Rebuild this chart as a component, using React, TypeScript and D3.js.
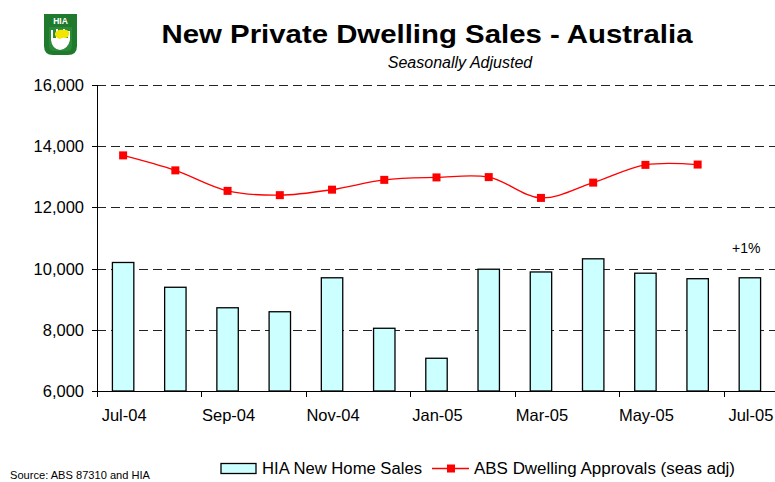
import React from "react";
import * as d3 from "d3";

const months = ["Jul-04", "Aug-04", "Sep-04", "Oct-04", "Nov-04", "Dec-04", "Jan-05", "Feb-05", "Mar-05", "Apr-05", "May-05", "Jun-05", "Jul-05"];
const hiaSales = [10200, 9390, 8720, 8590, 9700, 8050, 7070, 9980, 9890, 10320, 9850, 9670, 9700];
const absApprovals: (number | null)[] = [13700, 13210, 12540, 12400, 12580, 12900, 12980, 12990, 12310, 12810, 13390, 13400, null];
const yTicks = [6000, 8000, 10000, 12000, 14000, 16000];
const gridTicks = [8000, 10000, 12000, 14000, 16000];
const xLabelMonths = ["Jul-04", "Sep-04", "Nov-04", "Jan-05", "Mar-05", "May-05", "Jul-05"];

const FONT = "'Liberation Sans', Arial, sans-serif";

export default function App() {
  const W = 775, H = 482;
  const left = 97, right = 776, top = 85, bottom = 391;
  const x = d3.scaleBand<string>().domain(months).range([left, right]).paddingInner(0).paddingOuter(0);
  const y = d3.scaleLinear().domain([6000, 16000]).range([bottom, top]);
  const bw = x.bandwidth();
  const barW = bw * 0.41;
  const cx = (m: string) => (x(m) as number) + bw / 2;

  const linePts = months
    .map((m, i) => ({ m, v: absApprovals[i] }))
    .filter((d) => d.v !== null) as { m: string; v: number }[];
  const line = d3
    .line<{ m: string; v: number }>()
    .x((d) => cx(d.m))
    .y((d) => y(d.v))
    .curve(d3.curveCatmullRom.alpha(0.5));

  const fmt = d3.format(",");

  return (
    <svg width={W} height={H} style={{ position: "absolute", left: 0, top: 0, background: "#fff" }} fontFamily={FONT}>
      <rect x={0} y={0} width={W} height={H} fill="#fff" />
      {/* Logo */}
      <g>
        <path d="M44,14 H77 V46 Q77,55 68,55 H53 Q44,55 44,46 Z" fill="#1f7a2e" />
        <path d="M49,27 H72 V46 Q72,51 67,51 H54 Q49,51 49,46 Z" fill="#2a8a38" />
        <text x={60.5} y={24} fontSize={8.5} fontWeight="bold" fill="#fff" textAnchor="middle">HIA</text>
        <path d="M51,30 L51,40 Q52,49 60,50 Q68,49 70,40 L70,31 L68,31 L68,38 L65,38 L65,29 L63,29 L63,37 L58,37 L58,29 L56,29 L56,38 L53,38 L53,30 Z" fill="#ffffff" />
        <path d="M55,33 Q58,29 63,30 Q67,29 69,32 Q70,36 66,38 Q62,37 60,39 Q56,38 55,35 Z" fill="#f2e600" />
      </g>

      {/* Title */}
      <text x={427} y={43} fontSize={26} fontWeight="bold" textAnchor="middle" fill="#000" textLength={531} lengthAdjust="spacingAndGlyphs">
        New Private Dwelling Sales - Australia
      </text>
      <text x={460} y={68} fontSize={16} fontStyle="italic" textAnchor="middle" fill="#000">
        Seasonally Adjusted
      </text>

      {/* Gridlines */}
      {gridTicks.map((t) => (
        <line key={t} x1={left} x2={right} y1={Math.round(y(t)) + 0.5} y2={Math.round(y(t)) + 0.5} stroke="#222" strokeWidth={1} strokeDasharray="9,5" />
      ))}

      {/* Bars */}
      {months.map((m, i) => (
        <rect
          key={m}
          x={cx(m) - barW / 2}
          y={y(hiaSales[i])}
          width={barW}
          height={bottom - y(hiaSales[i])}
          fill="#ccffff"
          stroke="#000"
          strokeWidth={1.3}
        />
      ))}

      {/* Axes */}
      <line x1={left + 0.5} x2={left + 0.5} y1={top} y2={bottom} stroke="#000" strokeWidth={1} />
      <line x1={left} x2={right} y1={bottom + 0.5} y2={bottom + 0.5} stroke="#000" strokeWidth={1} />
      {yTicks.map((t) => (
        <g key={t}>
          <line x1={left - 5} x2={left} y1={Math.round(y(t)) + 0.5} y2={Math.round(y(t)) + 0.5} stroke="#000" />
          <text x={84} y={y(t) + 6} fontSize={16.5} textAnchor="end" fill="#000">{fmt(t)}</text>
        </g>
      ))}
      {months.map((m, i) =>
        i % 2 === 0 ? (
          <line key={m} x1={Math.round(x(m) as number) + 0.5} x2={Math.round(x(m) as number) + 0.5} y1={bottom} y2={bottom + 6} stroke="#000" />
        ) : null
      )}
      {xLabelMonths.map((m) => (
        <text key={m} x={cx(m) + 1} y={421} fontSize={16.5} textAnchor="middle" fill="#000">{m}</text>
      ))}

      {/* Line */}
      <path d={line(linePts) || ""} fill="none" stroke="#ff0000" strokeWidth={1.3} />
      {linePts.map((d) => (
        <rect key={d.m} x={cx(d.m) - 4} y={y(d.v) - 4} width={8} height={8} fill="#ff0000" />
      ))}

      {/* Annotation */}
      <text x={732} y={253} fontSize={14} fill="#000">+1%</text>

      {/* Legend */}
      <rect x={221} y={463.5} width={35} height={10} fill="#ccffff" stroke="#000" strokeWidth={1.3} />
      <text x={262} y={474} fontSize={16} fill="#000" textLength={160} lengthAdjust="spacingAndGlyphs">HIA New Home Sales</text>
      <line x1={432} x2={469} y1={468.5} y2={468.5} stroke="#ff0000" strokeWidth={1.3} />
      <rect x={447} y={464.5} width={8} height={8} fill="#ff0000" />
      <text x={474} y={474} fontSize={16} fill="#000" textLength={261} lengthAdjust="spacingAndGlyphs">ABS Dwelling Approvals (seas adj)</text>

      {/* Source */}
      <text x={10} y={479} fontSize={11.5} fill="#000" textLength={140} lengthAdjust="spacingAndGlyphs">Source: ABS 87310 and HIA</text>
    </svg>
  );
}
